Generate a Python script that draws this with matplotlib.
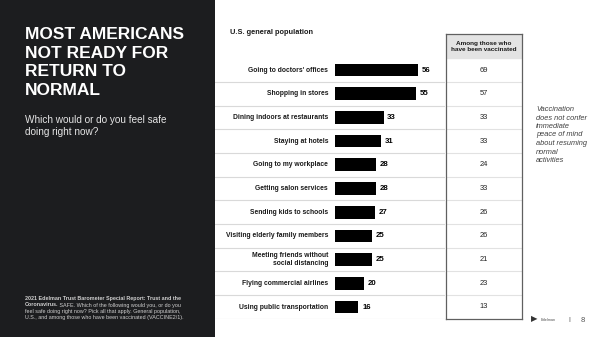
import matplotlib
matplotlib.use('Agg')
import matplotlib.pyplot as plt
from matplotlib.patches import Rectangle

plt.rcParams['font.family'] = ['Liberation Sans', 'DejaVu Sans']

# 数据
categories = ["Going to doctors' offices", "Shopping in stores", "Dining indoors at restaurants",
              "Staying at hotels", "Going to my workplace", "Getting salon services",
              "Sending kids to schools", "Visiting elderly family members",
              "Meeting friends without\nsocial distancing", "Flying commercial airlines",
              "Using public transportation"]
general_pop = [56, 55, 33, 31, 28, 28, 27, 25, 25, 20, 16]
vaccinated = [69, 57, 33, 33, 24, 33, 26, 26, 21, 23, 13]

W, H = 600, 337
fig = plt.figure(figsize=(W / 100, H / 100), dpi=100)

def box(x0, y0, x1, y1):
    # 像素坐标 -> figure 坐标
    return [x0 / W, 1 - y1 / H, (x1 - x0) / W, (y1 - y0) / H]

# 左侧深色面板
fig.patches.append(Rectangle((0, 0), 215 / W, 1, transform=fig.transFigure,
                             facecolor='#1c1d1f', edgecolor='none', zorder=0))

fig.text(25 / W, 1 - 27 / H, "MOST AMERICANS\nNOT READY FOR\nRETURN TO\nNORMAL",
         color='white', fontsize=12.5, fontweight='bold', va='top', ha='left', linespacing=1.3)
fig.text(25 / W, 1 - 115 / H, "Which would or do you feel safe\ndoing right now?",
         color='#e6e6e6', fontsize=7.2, va='top', ha='left', linespacing=1.3)

# 脚注
fn_size = 3.9
fn_col = '#d0d0d0'
fig.text(25 / W, 1 - 296 / H, "2021 Edelman Trust Barometer Special Report: Trust and the",
         color=fn_col, fontsize=fn_size, fontweight='bold', va='top', ha='left')
t2 = fig.text(25 / W, 1 - 302.5 / H, "Coronavirus.", color=fn_col, fontsize=fn_size,
              fontweight='bold', va='top', ha='left')
fig.add_artist(plt.Annotation(" SAFE. Which of the following would you, or do you", xy=(1, 1),
                              xycoords=t2, va='top', ha='left', color=fn_col, fontsize=fn_size))
fig.text(25 / W, 1 - 309 / H, "feel safe doing right now? Pick all that apply. General population,\n"
         "U.S., and among those who have been vaccinated (VACCINE2/1).",
         color=fn_col, fontsize=fn_size, va='top', ha='left', linespacing=1.3)

# 条形图
ax = fig.add_axes(box(215, 58.15, 445, 318.85))
ypos = list(range(len(categories)))
ax.barh(ypos, general_pop, height=0.54, color='black')
ax.set_xlim(-(334.7 - 215) / 1.48, (445 - 334.7) / 1.48)
ax.set_ylim(len(categories) - 0.5, -0.5)
ax.axis('off')
for i, (c, v) in enumerate(zip(categories, general_pop)):
    ax.text(-4.5, i, c, ha='right', va='center', fontsize=4.9, fontweight='bold',
            color='#1a1a1a', linespacing=1.15)
    ax.text(v + 2.5, i, str(v), ha='left', va='center', fontsize=5.6, fontweight='bold')
    ax.axhline(i + 0.5, color='#d9d9d9', linewidth=0.8)

fig.text(230 / W, 1 - 33 / H, "U.S. general population", fontsize=5.3, fontweight='bold',
         va='center', ha='left', color='#1a1a1a')

# 右侧表格
tab = fig.add_axes(box(446, 34.45, 522, 318.85))
tab.set_xlim(0, 1)
tab.set_ylim(len(vaccinated) - 0.5, -1.5)
tab.set_xticks([])
tab.set_yticks([])
for s in tab.spines.values():
    s.set_color('#606060')
    s.set_linewidth(0.9)
tab.axhspan(-1.5, -0.5, color='#e3e3e3', zorder=0)
tab.text(0.5, -1, "Among those who\nhave been vaccinated", ha='center', va='center',
         fontsize=4.6, fontweight='bold', color='#1a1a1a', linespacing=1.2)
for i, v in enumerate(vaccinated):
    tab.text(0.5, i, str(v), ha='center', va='center', fontsize=5.4, color='#222222')
    if i < len(vaccinated) - 1:
        tab.axhline(i + 0.5, color='#e2e2e2', linewidth=0.8)

# 注释
fig.text(536 / W, 1 - 106 / H, "Vaccination\ndoes not confer\nimmediate\npeace of mind\n"
         "about resuming\nnormal\nactivities", fontsize=5.3, style='italic', color='#404040',
         va='top', ha='left', linespacing=1.3)

# 页脚
fig.text(531 / W, 1 - 320 / H, "\u25B6", fontsize=6, color='#333333', va='center', ha='left')
fig.text(541 / W, 1 - 320 / H, "Edelman", fontsize=2.8, color='#555555', va='center', ha='left')
fig.text(569 / W, 1 - 320 / H, "I", fontsize=5, color='#555555', va='center', ha='center')
fig.text(583 / W, 1 - 320 / H, "8", fontsize=5.5, color='#555555', va='center', ha='center')

fig.savefig('out.png', dpi=100)
